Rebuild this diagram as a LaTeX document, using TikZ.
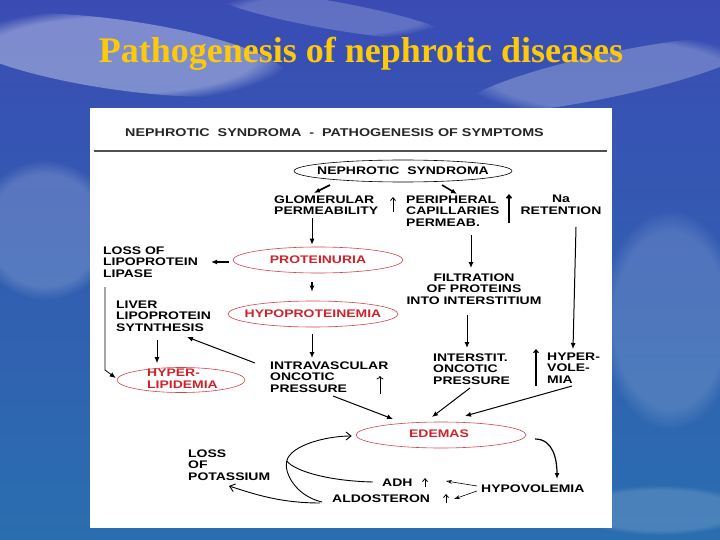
\documentclass[tikz,border=0pt]{standalone}
\usepackage{fontspec}
\setmainfont{Liberation Serif}
\newfontfamily\lblfont[FakeStretch=1.27]{Liberation Sans}
\usepackage{tikz}
\usetikzlibrary{arrows.meta, calc, shapes.geometric, fadings}
\definecolor{skytop}{RGB}{58,76,180}
\definecolor{skymid}{RGB}{100,135,210}
\definecolor{seablue}{RGB}{42,110,175}
\definecolor{titlegold}{RGB}{252,202,10}
\definecolor{edemared}{RGB}{205,35,45}
\definecolor{rulegray}{RGB}{80,80,80}

\begin{document}
\begin{tikzpicture}[x=1pt,y=-1pt,
  lbl/.style={font=\lblfont\bfseries\fontsize{11}{11.6}\selectfont,align=left,inner sep=0pt},
  redlbl/.style={lbl,text=edemared},
  ell/.style={ellipse,draw,line width=0.6pt,inner sep=0pt},
  redell/.style={ell,draw=edemared!85},
  cloud/.style={white,path fading=circle with fuzzy edge 20 percent},
  arr/.style={-{Latex[length=6pt,width=5pt]},line width=1pt},
  barb/.style={-{Straight Barb[length=5pt,width=8pt]},line width=0.9pt},
  thinarr/.style={-{Stealth[length=6pt,width=4pt,open]},line width=0.6pt},
  upmark/.style={-{Straight Barb[length=3pt,width=5pt]},line width=0.8pt}]
  \useasboundingbox (0,0) rectangle (720,540);
  %% background
  \shade[top color=skytop,middle color=skymid,bottom color=seablue] (0,0) rectangle (720,540);
  \fill[cloud,fill opacity=0.35,rotate around={-8:(120,55)}] (120,55) ellipse [x radius=170,y radius=35];
  \fill[cloud,fill opacity=0.25,rotate around={12:(610,75)}] (610,75) ellipse [x radius=150,y radius=22];
  \fill[cloud,fill opacity=0.2,rotate around={-10:(330,15)}] (330,15) ellipse [x radius=120,y radius=14];
  \fill[cloud,fill opacity=0.18] (45,230) ellipse [x radius=70,y radius=70];
  \fill[cloud,fill opacity=0.15] (670,320) ellipse [x radius=70,y radius=110];
  \fill[cloud,fill opacity=0.15] (660,510) ellipse [x radius=90,y radius=25];
  \node[font=\fontsize{36}{40}\selectfont\bfseries,text=titlegold,inner sep=0pt] (title) at (361,54) {Pathogenesis of nephrotic diseases};
  %% panel
  \fill[white] (90,108) rectangle (612,528);
  \node[lbl,anchor=west,font=\lblfont\bfseries\fontsize{11.3}{12}\selectfont,text=black!85] (head) at (125,133) {NEPHROTIC\ \ SYNDROMA\ \ -\ \ PATHOGENESIS OF SYMPTOMS};
  \draw[rulegray,line width=1.2pt] (94,151) -- (607,151);
  %% top row
  \node[ell,minimum width=218pt,minimum height=22pt] (ns) at (403,171) {};
  \node[lbl] (nstxt) at (ns) {NEPHROTIC\ \ SYNDROMA};
  \node[lbl,anchor=west] (glom) at (274,205) {GLOMERULAR\\PERMEABILITY};
  \node[lbl,anchor=west] (peri) at (406,211) {PERIPHERAL\\CAPILLARIES\\PERMEAB.};
  \node[lbl,align=center] (na) at (561,205) {Na\\RETENTION};
  %% middle
  \node[redell,minimum width=170pt,minimum height=26pt] (prot) at (318,260) {};
  \node[redlbl] (prottxt) at (prot) {PROTEINURIA};
  \node[lbl,anchor=west] (loss) at (103,262) {LOSS OF\\LIPOPROTEIN\\LIPASE};
  \node[lbl,align=center] (filt) at (474,289) {FILTRATION\\OF PROTEINS\\INTO INTERSTITIUM};
  \node[redell,minimum width=170pt,minimum height=26pt] (hypop) at (313,314) {};
  \node[redlbl] (hypoptxt) at (hypop) {HYPOPROTEINEMIA};
  \node[lbl,anchor=west] (liver) at (116,316) {LIVER\\LIPOPROTEIN\\SYTNTHESIS};
  \node[redell,minimum width=128pt,minimum height=25pt] (hyperl) at (181,380) {};
  \node[redlbl,anchor=west] (hyperltxt) at (147,379) {HYPER-\\LIPIDEMIA};
  \node[lbl,anchor=west] (intra) at (270,377) {INTRAVASCULAR\\ONCOTIC\\PRESSURE};
  \node[lbl,anchor=west] (inter) at (433,369) {INTERSTIT.\\ONCOTIC\\PRESSURE};
  \node[lbl,anchor=west] (hyperv) at (547,368) {HYPER-\\VOLE-\\MIA};
  %% bottom
  \node[redell,minimum width=170pt,minimum height=26pt] (edem) at (441,435) {};
  \node[redlbl] (edemtxt) at (439,434) {EDEMAS};
  \node[lbl,anchor=west] (potas) at (188,465) {LOSS\\OF\\POTASSIUM};
  \node[lbl,anchor=west] (adh) at (382,483) {ADH};
  \node[lbl,anchor=west] (aldo) at (332,499) {ALDOSTERON};
  \node[lbl,anchor=west] (hypov) at (481,489) {HYPOVOLEMIA};
  \coordinate (merge) at ($(edem.west)+(-69,26)$);
  %% increase / decrease marks
  \draw[upmark] ($(glom.west)+(119,7)$) -- ($(glom.west)+(119,-8)$);
  \draw[upmark,line width=1.6pt] ($(peri.west)+(103,12)$) -- ($(peri.west)+(103,-17)$);
  \draw[upmark,line width=1.1pt] ($(hyperv.west)+(-11,18)$) -- ($(hyperv.west)+(-11,-19)$);
  \draw[upmark,<-] ($(intra.west)+(110,-1)$) -- ($(intra.west)+(110,17)$);
  \draw[upmark] ($(adh.west)+(43,4)$) -- ($(adh.west)+(43,-5)$);
  \draw[upmark] ($(aldo.west)+(114,4)$) -- ($(aldo.west)+(114,-5)$);
  %% connectors
  \draw[arr,line width=1.6pt] ($(ns.center)+(-73,14)$) -- ($(glom.west)+(40,-12)$);
  \draw[arr,line width=1.6pt] ($(ns.center)+(39,14)$) -- ($(peri.west)+(51,-17)$);
  \draw[arr] ($(glom.west)+(38,13)$) -- ($(prot.north)+(-6,-2)$);
  \draw[arr,line width=1.8pt] ($(prot.west)+(-4,2)$) -- ($(loss.west)+(108,0)$);
  \draw[arr,line width=1.4pt] ($(prot.south)+(-6,9)$) -- ($(hypop.north)+(-1,-9)$);
  \draw[arr,line width=0.8pt] ($(loss.west)+(2,25)$) -- ($(loss.west)+(2,108)$) -- ($(hyperl.west)+(-1,-2)$);
  \draw[arr] ($(liver.west)+(41,24)$) -- ($(hyperl.north)+(-24,-4)$);
  \draw[arr] ($(peri.west)+(65,24)$) -- ($(filt.center)+(-3,-21)$);
  \draw[arr] ($(filt.center)+(-7,26)$) -- ($(inter.west)+(34,-21)$);
  \draw[arr] ($(na.center)+(15,22)$) -- ($(hyperv.west)+(26,-19)$);
  \draw[arr] ($(hypop.south)+(-1,7)$) -- ($(intra.west)+(42,-19)$);
  \draw[arr] ($(intra.west)+(-15,-14)$) -- ($(liver.west)+(71,21)$);
  \draw[arr] ($(intra.west)+(63,19)$) -- ($(edem.center)+(-48,-16)$);
  \draw[arr] ($(inter.west)+(37,19)$) -- ($(edem.center)+(-9,-18)$);
  \draw[arr] ($(hyperv.west)+(25,18)$) -- ($(edem.center)+(24,-19)$);
  \draw[arr,line width=1.2pt] ($(edem.center)+(94,4)$) .. controls +(18,0) and +(0,-20) .. ($(hypov.west)+(76,-10)$);
  \draw[thinarr] ($(hypov.west)+(-4,-3)$) -- ($(adh.west)+(64,-2)$);
  \draw[thinarr] ($(hypov.west)+(-4,2)$) -- ($(aldo.west)+(122,0)$);
  \draw[barb] ($(aldo.west)+(-10,3)$) .. controls +(-26,-6) and +(-3,12) .. (merge) .. controls +(4,-16) and +(-25,0) .. ($(edem.west)+(-4,1)$);
  \draw[line width=0.9pt] ($(adh.west)+(-9,-1)$) .. controls +(-45,-1) and +(8,10) .. (merge);
  \draw[barb] ($(aldo.west)+(-12,4)$) .. controls +(-40,0) and +(25,8) .. ($(potas.west)+(41,21)$);
\end{tikzpicture}
\end{document}
